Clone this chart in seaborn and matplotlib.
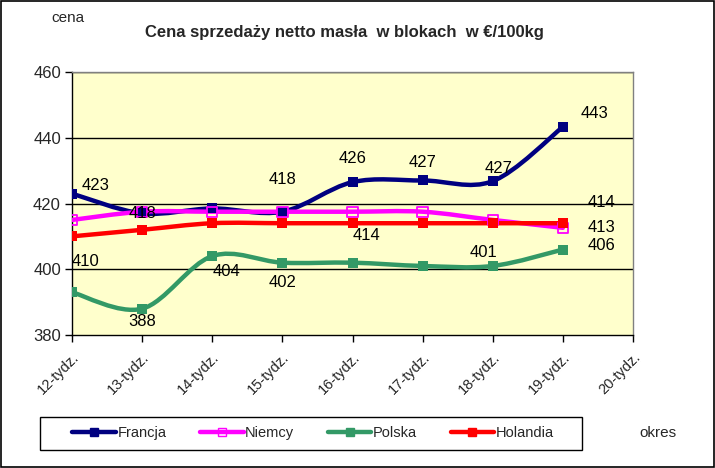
import numpy as np
import pandas as pd
import seaborn as sns
import matplotlib
matplotlib.use("Agg")
import matplotlib.pyplot as plt
from matplotlib.path import Path
from matplotlib.patches import PathPatch, Rectangle
from matplotlib.lines import Line2D

# ---- data ----
weeks = ["12-tydz.", "13-tydz.", "14-tydz.", "15-tydz.", "16-tydz.",
         "17-tydz.", "18-tydz.", "19-tydz.", "20-tydz."]
francja = [423, 417, 418.5, 417.5, 426.5, 427, 426.8, 443.3]
niemcy = [415, 417.5, 417.5, 417.5, 417.5, 417.5, 415, 412.6]
polska = [393, 388, 404, 402, 402, 401, 401, 406]
holandia = [410, 412, 414, 414, 414, 414, 414, 414]
series_names = ["Francja", "Niemcy", "Polska", "Holandia"]

colors = {"Francja": "#000080", "Niemcy": "#FF00FF",
          "Polska": "#339966", "Holandia": "#FF0000"}

rows = []
for name, vals in zip(series_names, [francja, niemcy, polska, holandia]):
    for i, v in enumerate(vals):
        rows.append({"x": i, "y": v, "kraj": name})
df = pd.DataFrame(rows)

sns.set_theme(style="white")
plt.rcParams["font.family"] = ["Liberation Sans", "DejaVu Sans"]

fig = plt.figure(figsize=(7.15, 4.68), dpi=100)
fig.patch.set_facecolor("white")
fig.patches.append(Rectangle((0.001, 0.002), 0.997, 0.996, transform=fig.transFigure,
                             fill=False, edgecolor="black", linewidth=1.2, zorder=0))
ax = fig.add_axes([72/715, 1-335/468, (633-72)/715, (335-72)/468])
ax.set_facecolor("#FFFFCC")


def smooth_path(xs, ys, t=1/6):
    pts = np.column_stack([xs, ys]).astype(float)
    verts = [pts[0]]
    codes = [Path.MOVETO]
    n = len(pts)
    for i in range(n - 1):
        p0 = pts[i - 1] if i > 0 else pts[i]
        p1 = pts[i]
        p2 = pts[i + 1]
        p3 = pts[i + 2] if i + 2 < n else pts[i + 1]
        c1 = p1 + (p2 - p0) * t
        c2 = p2 - (p3 - p1) * t
        verts += [c1, c2, p2]
        codes += [Path.CURVE4] * 3
    return Path(verts, codes)


for name in series_names:
    d = df[df.kraj == name]
    patch = PathPatch(smooth_path(d.x.values, d.y.values), fill=False,
                      edgecolor=colors[name], linewidth=3.2, zorder=3,
                      capstyle="round", joinstyle="round")
    ax.add_patch(patch)

for name in series_names:
    d = df[df.kraj == name]
    hollow = name == "Niemcy"
    sns.scatterplot(data=d, x="x", y="y", ax=ax, marker="s", s=55,
                    color=colors[name] if not hollow else "none",
                    edgecolor=colors[name], linewidth=1.3 if hollow else 0,
                    zorder=4, legend=False)

ax.set_xlim(0, 8)
ax.set_ylim(380, 460)
ax.set_yticks([380, 400, 420, 440, 460])
ax.set_xticks(range(len(weeks)))
ax.set_xticklabels(weeks, rotation=45, ha="right", rotation_mode="anchor",
                   fontsize=10.5)
ax.tick_params(axis="y", labelsize=12, length=5, direction="out", left=True,
               color="black", width=1, pad=3)
ax.tick_params(axis="x", length=5, direction="out", bottom=True,
               color="black", width=1, pad=6)
for y in [400, 420, 440, 460]:
    ax.axhline(y, color="black", linewidth=1, zorder=1)
ax.set_xlabel("")
ax.set_ylabel("")
for s in ["left", "bottom"]:
    ax.spines[s].set_color("black")
    ax.spines[s].set_linewidth(1)
for s in ["top", "right"]:
    ax.spines[s].set_color("#808080")
    ax.spines[s].set_linewidth(1)

# data labels (series, x index, dx, dy in points, ha)
labels = [
    (francja, 0, 7, 6, "left"), (francja, 3, 0, 23, "center"),
    (francja, 4, 0, 17, "center"), (francja, 5, 0, 13, "center"),
    (francja, 6, 4, 9, "center"), (francja, 7, 13, 9.5, "left"),
    (niemcy, 1, 0, -1, "center"), (niemcy, 7, 18, 0, "left"),
    (holandia, 0, 0, -18, "left"), (holandia, 4, 0, -9, "left"),
    (holandia, 7, 18, 15, "left"),
    (polska, 1, 0, -9, "center"), (polska, 2, 0, -11, "left"),
    (polska, 3, 0, -14, "center"), (polska, 6, -7, 9.5, "center"),
    (polska, 7, 18, 3, "left"),
]
for vals, i, dx, dy, ha in labels:
    ax.annotate(f"{round(vals[i]):d}", (i, vals[i]), xytext=(dx, dy),
                textcoords="offset points", ha=ha, va="center",
                fontsize=12, color="black", zorder=6)

fig.text(344/715, 1-33/468, "Cena sprzedaży netto masła  w blokach  w €/100kg",
         ha="center", va="center", fontsize=12, fontweight="bold")
fig.text(68/715, 1-18/468, "cena", ha="center", va="center", fontsize=11)
fig.text(658/715, 1-433/468, "okres", ha="center", va="center", fontsize=11)

# legend
fig.patches.append(Rectangle((40/715, 1-450/468), (582-40)/715, (450-416.5)/468,
                             transform=fig.transFigure, fill=False,
                             edgecolor="black", linewidth=1, zorder=1))
handles = [Line2D([0], [0], color=colors[n], linewidth=3.2, marker="s",
                  markersize=6,
                  markerfacecolor=("none" if n == "Niemcy" else colors[n]),
                  markeredgecolor=colors[n]) for n in series_names]
leg = fig.legend(handles, series_names, ncol=4, loc="center",
                 bbox_to_anchor=(313/715, 1-433/468),
                 frameon=False, fontsize=10.5, handlelength=3.0,
                 handletextpad=0.1, columnspacing=2.3)

fig.savefig("out.png", dpi=100, facecolor="white")
